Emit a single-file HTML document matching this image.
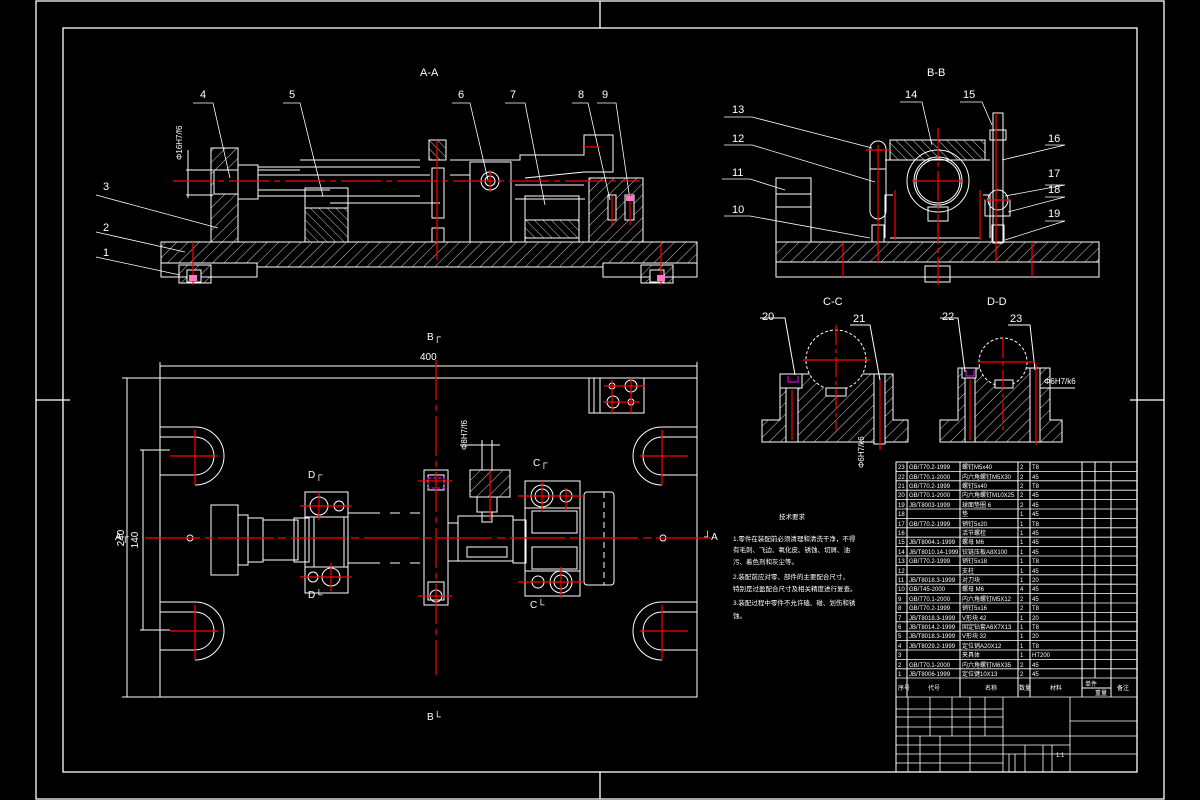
<!DOCTYPE html>
<html><head><meta charset="utf-8"><style>
html,body{margin:0;padding:0;background:#000;}
svg{display:block}
text{font-family:"Liberation Sans","Noto Sans CJK SC",sans-serif;fill:#fff}
</style></head><body>
<svg width="1200" height="800" viewBox="0 0 1200 800" xmlns="http://www.w3.org/2000/svg">
<defs>
<pattern id="h" width="8" height="8" patternUnits="userSpaceOnUse" patternTransform="rotate(45)"><line x1="0" y1="0" x2="0" y2="8" stroke="#fff" stroke-width="0.8"/></pattern>
<pattern id="h2" width="6" height="6" patternUnits="userSpaceOnUse" patternTransform="rotate(-45)"><line x1="0" y1="0" x2="0" y2="6" stroke="#fff" stroke-width="0.8"/></pattern>
</defs>
<rect width="1200" height="800" fill="#000"/>
<g stroke="#fff" stroke-width="1.3" fill="none">
<rect x="36" y="1" width="1128" height="798"/>
<rect x="63" y="28" width="1074" height="744"/>
<line x1="600" y1="1" x2="600" y2="28"/><line x1="600" y1="772" x2="600" y2="799"/>
<line x1="36" y1="400" x2="70" y2="400"/><line x1="1130" y1="400" x2="1164" y2="400"/>
</g>

<!-- A-A view -->
<text x="420" y="76" font-size="11">A-A</text>
<g stroke="#fff" stroke-width="1" fill="none">
<path d="M161 242 H697 V263 H603 V267 H257 V263 H161 Z" fill="url(#h)"/>
<rect x="161" y="263" width="96" height="14"/><rect x="603" y="263" width="94" height="14"/>
<rect x="179" y="265" width="32" height="18" fill="url(#h)"/><rect x="641" y="265" width="32" height="18" fill="url(#h)"/>
<rect x="187" y="270" width="14" height="12" fill="#000"/><rect x="650" y="270" width="14" height="12" fill="#000"/>
<path d="M211 148 H238 V242 H211 Z" fill="url(#h)"/>
<rect x="214" y="170" width="24" height="24" fill="#000"/>
<rect x="238" y="165" width="20" height="34"/>
<path d="M258 167 H420 M258 196 H420 M258 170 H300 M300 160 H420 M450 160 H520 V155 H584 V135 H613 V172 H584 L525 178 M258 175 H430 M450 175 H470 M258 190 H330 M330 203 H440 M515 185 H584 M515 199 H585"/>
<rect x="305" y="188" width="43" height="54"/><rect x="305" y="208" width="43" height="34" fill="url(#h2)"/>
<rect x="429" y="140" width="17" height="20" fill="url(#h2)"/>
<rect x="432" y="168" width="12" height="50"/><rect x="432" y="228" width="12" height="14"/>
<rect x="470" y="162" width="41" height="80"/>
<circle cx="490" cy="181" r="9"/><circle cx="490" cy="181" r="5"/>
<rect x="525" y="196" width="54" height="46"/><rect x="525" y="220" width="54" height="18" fill="url(#h2)"/>
<path d="M589 178 H643 V242 H589 Z" fill="url(#h)"/>
<rect x="608" y="195" width="8" height="25" fill="#000"/><rect x="625" y="195" width="9" height="25" fill="#000"/>
<line x1="188" y1="150" x2="188" y2="198"/><line x1="186" y1="170" x2="213" y2="170"/><line x1="186" y1="195" x2="213" y2="195"/>
</g>
<g stroke="#fff" stroke-width="0.8" fill="none">
<path d="M193 103 H213 L230 178"/><path d="M283 103 H300 L323 196"/><path d="M452 103 H470 L488 180"/><path d="M505 103 H525 L545 205"/><path d="M572 103 H588 L610 200"/><path d="M597 103 H616 L630 200"/>
<path d="M96 195 L218 228"/><path d="M96 232 L185 252"/><path d="M96 257 L180 275"/>
</g>
<g font-size="11"><text x="200" y="98">4</text><text x="289" y="98">5</text><text x="458" y="98">6</text><text x="510" y="98">7</text><text x="578" y="98">8</text><text x="602" y="98">9</text>
<text x="103" y="190">3</text><text x="103" y="231">2</text><text x="103" y="256">1</text></g>
<text font-size="8" transform="translate(182 160) rotate(-90)">Φ16H7/f6</text>
<g stroke="#f00" stroke-width="1.2" fill="none">
<line x1="173" y1="181" x2="640" y2="181" stroke-dasharray="40 5 6 5"/>
<line x1="437" y1="140" x2="437" y2="260"/><line x1="490" y1="170" x2="490" y2="192"/>
<line x1="193" y1="242" x2="193" y2="285"/><line x1="661" y1="242" x2="661" y2="285"/>
<line x1="612" y1="196" x2="612" y2="225"/><line x1="630" y1="193" x2="630" y2="225"/><line x1="584" y1="147" x2="600" y2="147"/>
</g>
<g fill="#f7c"><rect x="189" y="275" width="8" height="6"/><rect x="657" y="275" width="8" height="6"/><rect x="626" y="196" width="8" height="5"/></g>

<!-- B-B view -->
<text x="927" y="76" font-size="11">B-B</text>
<g stroke="#fff" stroke-width="1" fill="none">
<rect x="776" y="242" width="323" height="20" fill="url(#h)"/>
<rect x="776" y="262" width="323" height="15"/>
<rect x="925" y="266" width="25" height="16"/>
<rect x="776" y="178" width="35" height="64"/><line x1="776" y1="194" x2="811" y2="194"/><line x1="776" y1="207" x2="811" y2="207"/>
<rect x="890" y="140" width="95" height="20" fill="url(#h2)"/>
<path d="M885 160 H990 M890 238 H980 M893 195 H885 V238 M983 195 H990 V238"/>
<circle cx="938" cy="181" r="31"/><circle cx="938" cy="181" r="24"/><circle cx="938" cy="181" r="22"/>
<rect x="928" y="207" width="20" height="14"/>
<rect x="870" y="141" width="16" height="78" rx="8"/><line x1="870" y1="169" x2="886" y2="169"/>
<rect x="872" y="225" width="12" height="17"/><rect x="992" y="225" width="12" height="17"/>
<rect x="993" y="113" width="10" height="130"/><rect x="990" y="130" width="16" height="10"/>
<circle cx="998" cy="200" r="10"/><rect x="985" y="200" width="25" height="16"/>
</g>
<g stroke="#fff" stroke-width="0.8" fill="none">
<path d="M724 117 H752 L872 148"/><path d="M724 145 H752 L875 182"/><path d="M722 179 H750 L785 190"/><path d="M724 216 H750 L870 238"/>
<path d="M900 102 H922 L932 145"/><path d="M960 102 H982 L992 125"/><path d="M1045 145 H1065 L1002 160"/><path d="M1045 185 H1065 L1005 196"/><path d="M1045 197 H1065 L1008 212"/><path d="M1045 221 H1065 L1005 240"/>
</g>
<g font-size="11"><text x="732" y="113">13</text><text x="732" y="142">12</text><text x="732" y="176">11</text><text x="732" y="213">10</text>
<text x="905" y="98">14</text><text x="963" y="98">15</text><text x="1048" y="142">16</text><text x="1048" y="177">17</text><text x="1048" y="193">18</text><text x="1048" y="217">19</text></g>
<g stroke="#f00" stroke-width="1.2" fill="none">
<line x1="938" y1="128" x2="938" y2="285" stroke-dasharray="30 4 5 4"/><line x1="912" y1="181" x2="963" y2="181"/>
<line x1="878" y1="145" x2="878" y2="262"/><line x1="996" y1="113" x2="996" y2="262"/><line x1="895" y1="190" x2="895" y2="240"/><line x1="980" y1="190" x2="980" y2="240"/>
<line x1="843" y1="242" x2="843" y2="277"/><line x1="1032" y1="242" x2="1032" y2="277"/><line x1="985" y1="200" x2="1010" y2="200"/><line x1="866" y1="150" x2="890" y2="150"/>
</g>

<!-- C-C -->
<text x="823" y="305" font-size="11">C-C</text>
<g stroke="#fff" stroke-width="1" fill="none">
<path d="M762 420 H780 V374 H893 V420 H908 V442 H762 Z" fill="url(#h)"/>
<circle cx="836" cy="360" r="30" stroke-dasharray="3 2" fill="#000"/>
<rect x="826" y="388" width="20" height="8" fill="#000"/>
<rect x="780" y="374" width="22" height="14" fill="#000"/><rect x="786" y="388" width="12" height="54" fill="#000"/>
<rect x="874" y="374" width="11" height="70" fill="#000"/>
<path d="M760 318 H785 L795 375"/><path d="M850 325 H870 L880 380"/>
</g>
<text x="762" y="320" font-size="11">20</text><text x="853" y="322" font-size="11">21</text>
<g stroke="#f00" stroke-width="1.2"><line x1="836" y1="325" x2="836" y2="430" stroke-dasharray="20 4 4 4"/><line x1="803" y1="360" x2="870" y2="360"/><line x1="792" y1="390" x2="792" y2="440"/><line x1="880" y1="380" x2="880" y2="450"/></g>
<g fill="none" stroke="#f0f"><path d="M788 376 v6 h10 v-6"/></g>
<text font-size="8" transform="translate(864 468) rotate(-90)">Φ6H7/k6</text>
<!-- D-D -->
<text x="987" y="305" font-size="11">D-D</text>
<g stroke="#fff" stroke-width="1" fill="none">
<path d="M940 420 H958 V368 H1050 V420 H1062 V442 H940 Z" fill="url(#h)"/>
<circle cx="1003" cy="362" r="24" stroke-dasharray="3 2" fill="#000"/>
<rect x="995" y="380" width="18" height="8" fill="#000"/>
<rect x="962" y="368" width="14" height="10" fill="#000"/><rect x="965" y="378" width="10" height="64" fill="#000"/>
<rect x="1030" y="368" width="10" height="74" fill="#000"/>
<path d="M940 318 H958 L965 372"/><path d="M1008 325 H1030 L1035 370"/><path d="M1040 388 H1075"/>
</g>
<text x="942" y="320" font-size="11">22</text><text x="1010" y="322" font-size="11">23</text>
<text x="1044" y="384" font-size="8">Φ6H7/k6</text>
<g stroke="#f00" stroke-width="1.2"><line x1="1003" y1="338" x2="1003" y2="430" stroke-dasharray="20 4 4 4"/><line x1="980" y1="362" x2="1035" y2="362"/><line x1="970" y1="380" x2="970" y2="440"/><line x1="1036" y1="364" x2="1036" y2="445"/></g>
<g fill="none" stroke="#f0f"><path d="M966 370 v6 h8 v-6"/></g>

<!-- Plan view -->
<text x="427" y="340" font-size="10">B┌</text>
<text x="427" y="720" font-size="10">B└</text>
<text x="420" y="360" font-size="10">400</text>
<g stroke="#fff" stroke-width="1" fill="none">
<line x1="160" y1="366" x2="697" y2="366"/><line x1="160" y1="362" x2="160" y2="378"/><line x1="697" y1="362" x2="697" y2="378"/>
<rect x="160" y="378" width="537" height="319"/>
<line x1="122" y1="378" x2="160" y2="378"/><line x1="122" y1="697" x2="160" y2="697"/><line x1="127" y1="378" x2="127" y2="697"/>
<line x1="140" y1="450" x2="170" y2="450"/><line x1="140" y1="630" x2="170" y2="630"/><line x1="143" y1="450" x2="143" y2="630"/>
<path d="M160 437 H195 A19 19 0 0 1 195 475 H160"/><path d="M160 427 H195 A29 29 0 0 1 195 485"/>
<path d="M160 612 H195 A19 19 0 0 1 195 650 H160"/><path d="M160 602 H195 A29 29 0 0 1 195 660"/>
<path d="M697 437 H662 A19 19 0 0 0 662 475 H697"/><path d="M697 427 H662 A29 29 0 0 0 662 485"/>
<path d="M697 612 H662 A19 19 0 0 0 662 650 H697"/><path d="M697 602 H662 A29 29 0 0 0 662 660"/>
<rect x="589" y="378" width="55" height="35"/><line x1="594" y1="378" x2="594" y2="413"/><line x1="600" y1="378" x2="600" y2="413"/>
<circle cx="631" cy="386" r="6"/><circle cx="613" cy="402" r="6"/><circle cx="612" cy="386" r="3"/><circle cx="631" cy="402" r="3"/>
<rect x="211" y="505" width="27" height="70"/><rect x="238" y="515" width="10" height="50"/><rect x="248" y="518" width="15" height="44"/><rect x="263" y="520" width="35" height="40"/><rect x="294" y="518" width="15" height="44"/>
<rect x="305" y="492" width="43" height="101"/><line x1="305" y1="517" x2="348" y2="517"/><line x1="305" y1="567" x2="348" y2="567"/>
<rect x="314" y="517" width="30" height="50"/>
<circle cx="319" cy="506" r="9"/><circle cx="339" cy="506" r="5"/><circle cx="331" cy="577" r="9"/><circle cx="313" cy="577" r="5"/>
<path d="M348 513 H380 M390 513 H400 M410 513 H420 M348 563 H380 M390 563 H400 M410 563 H420"/>
<rect x="424" y="470" width="24" height="135"/><rect x="428" y="475" width="16" height="15"/><rect x="428" y="582" width="16" height="18"/>
<circle cx="436" cy="596" r="6"/>
<rect x="448" y="523" width="10" height="38"/><rect x="458" y="516" width="55" height="45"/><rect x="513" y="520" width="13" height="43"/><rect x="467" y="547" width="40" height="10"/>
<rect x="470" y="470" width="40" height="27" fill="url(#h)"/><rect x="477" y="497" width="20" height="15"/><rect x="482" y="512" width="10" height="10"/>
<line x1="482" y1="440" x2="482" y2="470"/><line x1="492" y1="440" x2="492" y2="470"/><line x1="460" y1="445" x2="500" y2="445"/>
<rect x="525" y="481" width="55" height="115"/><line x1="525" y1="508" x2="580" y2="508"/><line x1="525" y1="571" x2="580" y2="571"/>
<rect x="532" y="511" width="45" height="22"/><rect x="532" y="547" width="45" height="22"/>
<circle cx="542" cy="496" r="11"/><circle cx="542" cy="496" r="7"/><circle cx="566" cy="496" r="6"/><circle cx="561" cy="582" r="11"/><circle cx="561" cy="582" r="7"/><circle cx="538" cy="582" r="6"/>
<rect x="584" y="492" width="30" height="93" rx="3"/><line x1="604" y1="492" x2="604" y2="585" stroke-dasharray="6 4"/>
<circle cx="190" cy="538" r="3"/><circle cx="663" cy="538" r="3"/>
</g>
<g font-size="10"><text x="115" y="540">A┌</text><text x="704" y="540">┘A</text><text x="308" y="478">D┌</text><text x="308" y="598">D└</text><text x="533" y="466">C┌</text><text x="530" y="608">C└</text></g>
<text font-size="10" text-anchor="middle" transform="translate(124 538) rotate(-90)">240</text>
<text font-size="10" text-anchor="middle" transform="translate(138 540) rotate(-90)">140</text>
<text font-size="8" transform="translate(467 450) rotate(-90)">Φ8H7/f6</text>
<g stroke="#f00" stroke-width="1.2" fill="none">
<line x1="145" y1="538" x2="712" y2="538" stroke-dasharray="55 5 8 5"/>
<line x1="436" y1="360" x2="436" y2="675" stroke-dasharray="40 5 6 5"/>
<line x1="170" y1="456" x2="218" y2="456"/><line x1="195" y1="430" x2="195" y2="485"/><line x1="170" y1="631" x2="218" y2="631"/><line x1="195" y1="605" x2="195" y2="660"/>
<line x1="640" y1="456" x2="688" y2="456"/><line x1="662" y1="430" x2="662" y2="485"/><line x1="640" y1="631" x2="688" y2="631"/><line x1="662" y1="605" x2="662" y2="660"/>
<line x1="300" y1="506" x2="352" y2="506"/><line x1="319" y1="492" x2="319" y2="520"/><line x1="300" y1="577" x2="352" y2="577"/><line x1="331" y1="563" x2="331" y2="591"/>
<line x1="490" y1="470" x2="490" y2="520"/><line x1="418" y1="481" x2="452" y2="481"/><line x1="418" y1="596" x2="452" y2="596"/>
<line x1="518" y1="496" x2="584" y2="496"/><line x1="542" y1="481" x2="542" y2="512"/><line x1="566" y1="488" x2="566" y2="510"/><line x1="518" y1="582" x2="584" y2="582"/><line x1="561" y1="567" x2="561" y2="598"/>
<line x1="604" y1="386" x2="645" y2="386"/><line x1="631" y1="378" x2="631" y2="413"/><line x1="603" y1="402" x2="640" y2="402"/><line x1="612" y1="380" x2="612" y2="413"/>
</g>
<rect x="428" y="478" width="16" height="10" fill="none" stroke="#f0f" stroke-dasharray="3 2"/>

<!-- tech notes -->
<g font-size="6.5"><text x="779" y="519">技术要求</text>
<text x="733" y="541">1.零件在装配前必须清理和清洗干净，不得</text><text x="733" y="552">有毛刺、飞边、氧化皮、锈蚀、切屑、油</text><text x="733" y="564">污、着色剂和灰尘等。</text>
<text x="733" y="579">2.装配前应对零、部件的主要配合尺寸，</text><text x="733" y="591">特别是过盈配合尺寸及相关精度进行复查。</text><text x="733" y="605">3.装配过程中零件不允许磕、碰、划伤和锈</text><text x="733" y="618">蚀。</text></g>

<!-- BOM table -->
<g stroke="#fff" stroke-width="1" fill="none">
<rect x="896" y="462" width="241" height="310"/>
<path d="M907 462 V697 M960 462 V697 M1018 462 V697 M1030 462 V697 M1082 462 V697 M1095 462 V678 M1111 462 V697 M1082 688 H1111"/>
</g>
<g stroke="#fff" stroke-width="0.8">
<line x1="896" y1="471.4" x2="1137" y2="471.4"/><line x1="896" y1="480.8" x2="1137" y2="480.8"/><line x1="896" y1="490.2" x2="1137" y2="490.2"/><line x1="896" y1="499.6" x2="1137" y2="499.6"/><line x1="896" y1="509" x2="1137" y2="509"/><line x1="896" y1="518.4" x2="1137" y2="518.4"/><line x1="896" y1="527.8" x2="1137" y2="527.8"/><line x1="896" y1="537.2" x2="1137" y2="537.2"/><line x1="896" y1="546.6" x2="1137" y2="546.6"/><line x1="896" y1="556" x2="1137" y2="556"/><line x1="896" y1="565.4" x2="1137" y2="565.4"/><line x1="896" y1="574.8" x2="1137" y2="574.8"/><line x1="896" y1="584.2" x2="1137" y2="584.2"/><line x1="896" y1="593.6" x2="1137" y2="593.6"/><line x1="896" y1="603" x2="1137" y2="603"/><line x1="896" y1="612.4" x2="1137" y2="612.4"/><line x1="896" y1="621.8" x2="1137" y2="621.8"/><line x1="896" y1="631.2" x2="1137" y2="631.2"/><line x1="896" y1="640.6" x2="1137" y2="640.6"/><line x1="896" y1="650" x2="1137" y2="650"/><line x1="896" y1="659.4" x2="1137" y2="659.4"/><line x1="896" y1="668.8" x2="1137" y2="668.8"/><line x1="896" y1="678" x2="1137" y2="678"/>
<line x1="896" y1="697" x2="1137" y2="697"/>
<path d="M896 709 H1003 M896 717 H1003 M896 727 H1003 M896 736 H1137 M896 745 H1003 M896 754 H1137 M896 763 H1003 M1070 697 V772 M1003 697 V772 M1070 721 H1137 M1003 745 H1070"/>
<path d="M908 697 V772 M930 697 V736 M952 697 V736 M970 697 V772 M985 697 V736 M920 736 V772 M940 736 V772 M1025 745 V772 M1043 745 V772 M1009 754 V772 M1015 754 V772 M1052 745 V772"/>
</g>
<g font-size="6">
<text x="898" y="469">23</text><text x="909" y="469">GB/T70.2-1999</text><text x="962" y="469">螺钉M5x40</text><text x="1020" y="469">2</text><text x="1032" y="469">T8</text>
<text x="898" y="479">22</text><text x="909" y="479">GB/T70.1-2000</text><text x="962" y="479">内六角螺钉M5X30</text><text x="1020" y="479">2</text><text x="1032" y="479">45</text>
<text x="898" y="488">21</text><text x="909" y="488">GB/T70.2-1999</text><text x="962" y="488">螺钉5x40</text><text x="1020" y="488">2</text><text x="1032" y="488">T8</text>
<text x="898" y="497">20</text><text x="909" y="497">GB/T70.1-2000</text><text x="962" y="497">内六角螺钉M10X25</text><text x="1020" y="497">2</text><text x="1032" y="497">45</text>
<text x="898" y="507">19</text><text x="909" y="507">JB/T8003-1999</text><text x="962" y="507">球面垫圈 6</text><text x="1020" y="507">2</text><text x="1032" y="507">45</text>
<text x="898" y="516">18</text><text x="962" y="516">垫</text><text x="1020" y="516">1</text><text x="1032" y="516">45</text>
<text x="898" y="526">17</text><text x="909" y="526">GB/T70.2-1999</text><text x="962" y="526">销钉5x20</text><text x="1020" y="526">1</text><text x="1032" y="526">T8</text>
<text x="898" y="535">16</text><text x="962" y="535">活节螺栓</text><text x="1020" y="535">1</text><text x="1032" y="535">45</text>
<text x="898" y="544">15</text><text x="909" y="544">JB/T8004.1-1999</text><text x="962" y="544">螺母 M6</text><text x="1020" y="544">1</text><text x="1032" y="544">45</text>
<text x="898" y="554">14</text><text x="909" y="554">JB/T8010.14-1999</text><text x="962" y="554">铰链压板A8X100</text><text x="1020" y="554">1</text><text x="1032" y="554">45</text>
<text x="898" y="563">13</text><text x="909" y="563">GB/T70.2-1999</text><text x="962" y="563">销钉5x18</text><text x="1020" y="563">1</text><text x="1032" y="563">T8</text>
<text x="898" y="573">12</text><text x="962" y="573">支柱</text><text x="1020" y="573">1</text><text x="1032" y="573">45</text>
<text x="898" y="582">11</text><text x="909" y="582">JB/T8018.3-1999</text><text x="962" y="582">对刀块</text><text x="1020" y="582">1</text><text x="1032" y="582">20</text>
<text x="898" y="591">10</text><text x="909" y="591">GB/T45-2000</text><text x="962" y="591">螺母 M6</text><text x="1020" y="591">4</text><text x="1032" y="591">45</text>
<text x="898" y="601">9</text><text x="909" y="601">GB/T70.1-2000</text><text x="962" y="601">内六角螺钉M5X12</text><text x="1020" y="601">2</text><text x="1032" y="601">45</text>
<text x="898" y="610">8</text><text x="909" y="610">GB/T70.2-1999</text><text x="962" y="610">销钉5x16</text><text x="1020" y="610">2</text><text x="1032" y="610">T8</text>
<text x="898" y="620">7</text><text x="909" y="620">JB/T8018.3-1999</text><text x="962" y="620">V形块 42</text><text x="1020" y="620">1</text><text x="1032" y="620">20</text>
<text x="898" y="629">6</text><text x="909" y="629">JB/T8014.2-1999</text><text x="962" y="629">固定钻套A6X7X13</text><text x="1020" y="629">1</text><text x="1032" y="629">T8</text>
<text x="898" y="638">5</text><text x="909" y="638">JB/T8018.3-1999</text><text x="962" y="638">V形块 32</text><text x="1020" y="638">1</text><text x="1032" y="638">20</text>
<text x="898" y="648">4</text><text x="909" y="648">JB/T8029.2-1999</text><text x="962" y="648">定位销A20X12</text><text x="1020" y="648">1</text><text x="1032" y="648">T8</text>
<text x="898" y="657">3</text><text x="962" y="657">夹具体</text><text x="1020" y="657">1</text><text x="1032" y="657">HT200</text>
<text x="898" y="667">2</text><text x="909" y="667">GB/T70.1-2000</text><text x="962" y="667">内六角螺钉M6X35</text><text x="1020" y="667">2</text><text x="1032" y="667">45</text>
<text x="898" y="676">1</text><text x="909" y="676">JB/T8006-1999</text><text x="962" y="676">定位键10X13</text><text x="1020" y="676">2</text><text x="1032" y="676">45</text>
<text x="898" y="690">序号</text><text x="928" y="690">代号</text><text x="985" y="690">名称</text><text x="1019" y="690">数量</text><text x="1050" y="690">材料</text><text x="1085" y="686">单件</text><text x="1095" y="695">重量</text><text x="1117" y="690">备注</text>
<text x="1056" y="757">1:1</text>
</g>
</svg>
</body></html>
